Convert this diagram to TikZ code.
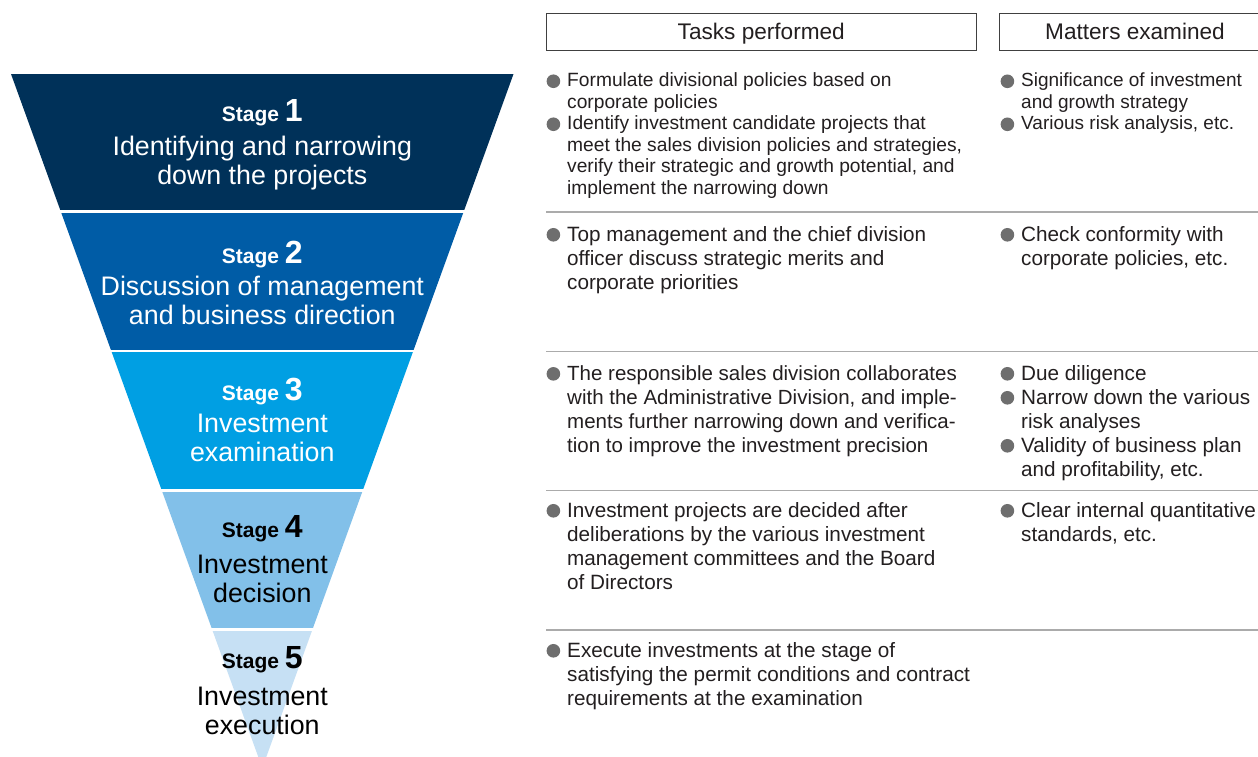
\documentclass[tikz,border=0pt]{standalone}
\usepackage{fontspec}
\setmainfont{Liberation Sans}
\usepackage{xcolor}
\usetikzlibrary{positioning}

\definecolor{stageA}{HTML}{003159}
\definecolor{stageB}{HTML}{005CA6}
\definecolor{stageC}{HTML}{009FE3}
\definecolor{stageD}{HTML}{82C0E9}
\definecolor{stageE}{HTML}{C6E0F4}
\definecolor{bodytext}{HTML}{231F20}
\definecolor{bulletgray}{HTML}{6E6E6E}
\definecolor{rulegray}{HTML}{ABABAB}

\begin{document}
\begin{tikzpicture}[x=1pt, y=-1pt,
    headbox/.style={draw=black!75, line width=0.9pt, minimum height=36.5pt, inner sep=0pt,
        text height=20.5pt, text depth=4pt, text=bodytext, font=\fontsize{22.6}{24}\selectfont},
    stagehead/.style={anchor=base, inner sep=0pt, font=\bfseries\fontsize{21}{24}\selectfont},
    stagetext/.style={anchor=base, inner sep=0pt, font=\fontsize{26.8}{29}\selectfont},
    item/.style={anchor=base west, inner sep=0pt, text=bodytext},
    dot/.style={fill=bulletgray},
    rowrule/.style={draw=rulegray, line width=1.2pt}]

    \fill[white] (0,0) rectangle (1258,757);
    \useasboundingbox (0,0) rectangle (1258,757);

    % Funnel
    \coordinate (fl) at (11,74);
    \coordinate (fr) at (513.5,74);
    \coordinate (tip) at (262.3,768);
    \begin{scope}
        \clip (fl) -- (fr) -- (tip) -- cycle;
        \foreach \ya/\yb/\col in {74/210/stageA, 213/349.5/stageB, 352/488.5/stageC,
                                  491.5/628/stageD, 630.5/768/stageE}
            \fill[\col] (0,\ya) rectangle (600,\yb);
    \end{scope}

    % Stage labels
    \foreach \stg/\sy/\ly/\tc/\la/\lz in {
        1/122/155/white/Identifying and narrowing/down the projects,
        2/263/295/white/Discussion of management/and business direction,
        3/400/432.7/white/Investment/examination,
        4/537.3/573.3/black/Investment/decision,
        5/668.3/705/black/Investment/execution}
    {
        \node[stagehead, text=\tc] (s\stg) at (262.3,\sy) {Stage {\fontsize{32}{32}\selectfont\stg}};
        \node[stagetext, text=\tc] (l\stg) at (262.3,\ly) {\parbox[t]{380pt}{\centering \la\\\lz}};
    }

    % Column heads
    \node[headbox, minimum width=430.5pt] (tasks) at (761.25,31.75) {Tasks performed};
    \node[headbox, minimum width=271pt] (matters) at (1135,31.75) {Matters examined};

    % Row rules
    \foreach \y in {212,351.5,490.5,630}
        \draw[rowrule] (546,\y) -- (1258,\y);

    % Items
    \foreach \nm/\x/\y/\fs/\ls/\txt in {
        ta1/567/87/19.2/21.5/{Formulate divisional policies based on\\corporate policies},
        ta2/567/130/19.2/21.5/{Identify investment candidate projects that\\meet the sales division policies and strategies,\\verify their strategic and growth potential, and\\implement the narrowing down},
        ma1/1021/87/19/21.5/{Significance of investment\\and growth strategy},
        ma2/1021/130/19/21.5/{Various risk analysis, etc.},
        tb1/567/241/20.7/24/{Top management and the chief division\\officer discuss strategic merits and\\corporate priorities},
        mb1/1021/241/20.7/24/{Check conformity with\\corporate policies, etc.},
        tc1/567/380/20.5/24/{The responsible sales division collaborates\\with the Administrative Division, and imple-\\ments further narrowing down and verifica-\\tion to improve the investment precision},
        mc1/1021/380/20.7/24/{Due diligence},
        mc2/1021/404/20.7/24/{Narrow down the various\\risk analyses},
        mc3/1021/452/20.7/24/{Validity of business plan\\and profitability, etc.},
        td1/567/517/20.7/24/{Investment projects are decided after\\deliberations by the various investment\\management committees and the Board\\of Directors},
        md1/1021/517/20.7/24/{Clear internal quantitative\\standards, etc.},
        te1/567/657/20.7/24/{Execute investments at the stage of\\satisfying the permit conditions and contract\\requirements at the examination}}
    {
        \node[item, font=\fontsize{\fs}{\ls}\selectfont] (\nm) at (\x,\y) {\parbox[t]{440pt}{\txt}};
        \fill[dot] ([xshift=-13.6pt,yshift=0.3*\fs pt]\nm.base west) circle (6.8pt);
    }
\end{tikzpicture}
\end{document}
